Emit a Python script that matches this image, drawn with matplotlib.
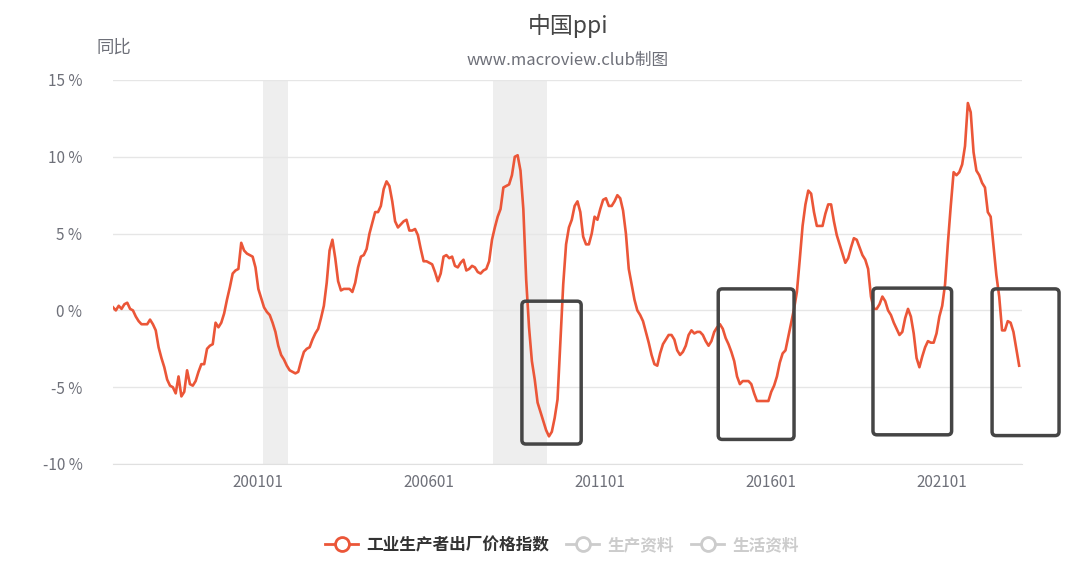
import matplotlib
matplotlib.use("Agg")
import numpy as np
import pandas as pd
import matplotlib.pyplot as plt
from matplotlib.lines import Line2D
from matplotlib.patches import FancyBboxPatch
from matplotlib.transforms import IdentityTransform

plt.rcParams["font.family"] = ["Noto Sans CJK SC", "DejaVu Sans"]

# PPI yoy (%), monthly, 1996-10 .. 2023-04
y1996 = [0.2, 0.0, 0.3]
y1997 = [0.1, 0.4, 0.5, 0.1, 0.0, -0.4, -0.7, -0.9, -0.9, -0.9, -0.6, -0.9]
y1998 = [-1.3, -2.4, -3.1, -3.7, -4.5, -4.9, -5.0, -5.4, -4.3, -5.6, -5.3, -3.9]
y1999 = [-4.8, -4.9, -4.6, -4.0, -3.5, -3.5, -2.5, -2.3, -2.2, -0.8, -1.1, -0.8]
y2000 = [-0.2, 0.7, 1.5, 2.4, 2.6, 2.7, 4.4, 3.9, 3.7, 3.6, 3.5, 2.8]
y2001 = [1.4, 0.8, 0.2, -0.1, -0.3, -0.8, -1.4, -2.3, -2.9, -3.2, -3.6, -3.9]
y2002 = [-4.0, -4.1, -4.0, -3.3, -2.7, -2.5, -2.4, -1.9, -1.5, -1.2, -0.5, 0.3]
y2003 = [1.8, 3.9, 4.6, 3.4, 1.9, 1.3, 1.4, 1.4, 1.4, 1.2, 1.8, 2.8]
y2004 = [3.5, 3.6, 4.0, 5.0, 5.7, 6.4, 6.4, 6.8, 7.9, 8.4, 8.1, 7.1]
y2005 = [5.8, 5.4, 5.6, 5.8, 5.9, 5.2, 5.2, 5.3, 4.9, 4.0, 3.2, 3.2]
y2006 = [3.1, 3.0, 2.5, 1.9, 2.4, 3.5, 3.6, 3.4, 3.5, 2.9, 2.8, 3.1]
y2007 = [3.3, 2.6, 2.7, 2.9, 2.8, 2.5, 2.4, 2.6, 2.7, 3.2, 4.6, 5.4]
y2008 = [6.1, 6.6, 8.0, 8.1, 8.2, 8.8, 10.0, 10.1, 9.1, 6.6, 2.0, -1.1]
y2009 = [-3.3, -4.5, -6.0, -6.6, -7.2, -7.8, -8.2, -7.9, -7.0, -5.8, -2.1, 1.7]
y2010 = [4.3, 5.4, 5.9, 6.8, 7.1, 6.4, 4.8, 4.3, 4.3, 5.0, 6.1, 5.9]
y2011 = [6.6, 7.2, 7.3, 6.8, 6.8, 7.1, 7.5, 7.3, 6.5, 5.0, 2.7, 1.7]
y2012 = [0.7, 0.0, -0.3, -0.7, -1.4, -2.1, -2.9, -3.5, -3.6, -2.8, -2.2, -1.9]
y2013 = [-1.6, -1.6, -1.9, -2.6, -2.9, -2.7, -2.3, -1.6, -1.3, -1.5, -1.4, -1.4]
y2014 = [-1.6, -2.0, -2.3, -2.0, -1.4, -1.1, -0.9, -1.2, -1.8, -2.2, -2.7, -3.3]
y2015 = [-4.3, -4.8, -4.6, -4.6, -4.6, -4.8, -5.4, -5.9, -5.9, -5.9, -5.9, -5.9]
y2016 = [-5.3, -4.9, -4.3, -3.4, -2.8, -2.6, -1.7, -0.8, 0.1, 1.2, 3.3, 5.5]
y2017 = [6.9, 7.8, 7.6, 6.4, 5.5, 5.5, 5.5, 6.3, 6.9, 6.9, 5.8, 4.9]
y2018 = [4.3, 3.7, 3.1, 3.4, 4.1, 4.7, 4.6, 4.1, 3.6, 3.3, 2.7, 0.9]
y2019 = [0.1, 0.1, 0.4, 0.9, 0.6, 0.0, -0.3, -0.8, -1.2, -1.6, -1.4, -0.5]
y2020 = [0.1, -0.4, -1.5, -3.1, -3.7, -3.0, -2.4, -2.0, -2.1, -2.1, -1.5, -0.4]
y2021 = [0.3, 1.7, 4.4, 6.8, 9.0, 8.8, 9.0, 9.5, 10.7, 13.5, 12.9, 10.3]
y2022 = [9.1, 8.8, 8.3, 8.0, 6.4, 6.1, 4.2, 2.3, 0.9, -1.3, -1.3, -0.7]
y2023 = [-0.8, -1.4, -2.5, -3.6]

ppi = (y1996 + y1997 + y1998 + y1999 + y2000 + y2001 + y2002 + y2003 + y2004
       + y2005 + y2006 + y2007 + y2008 + y2009 + y2010 + y2011 + y2012 + y2013
       + y2014 + y2015 + y2016 + y2017 + y2018 + y2019 + y2020 + y2021 + y2022
       + y2023)
months = list(pd.period_range("1996-10", "2023-04", freq="M").strftime("%Y%m"))

tick_months = ["200101", "200601", "201101", "201601", "202101"]
recessions = [("200103", "200111"), ("200712", "200906")]
# highlighted boxes: (x from, x to, y low, y high) in axis units
boxes = [(143.5, 164.3, -8.7, 0.6),
         (212.4, 239.0, -8.4, 1.4),
         (266.7, 294.3, -8.1, 1.45),
         (308.5, 332.0, -8.15, 1.4)]

legend_labels = ["工业生产者出厂价格指数", "生产资料", "生活资料"]

red = "#eb5638"
grey = "#6e7079"

x = np.arange(len(months))
pos = {m: i for i, m in enumerate(months)}

fig = plt.figure(figsize=(10.8, 5.73), dpi=100)
ax = fig.add_axes([113 / 1080, 1 - 464 / 573, (1022 - 113) / 1080, (464 - 80) / 573])

for a, b in recessions:
    ax.axvspan(pos[a] - 0.5, pos[b] + 0.3, color="#eeeeee", lw=0, zorder=0)

ax.plot(x, ppi, color=red, lw=1.9, zorder=3, solid_joinstyle="round")

ax.set_xlim(0, 319)
ax.set_ylim(-10, 15)
yt = list(range(-10, 16, 5))
ax.set_yticks(yt)
ax.set_yticklabels([f"{v} %" for v in yt], fontsize=11, color=grey)
ax.set_xticks([pos[m] for m in tick_months])
ax.set_xticklabels(tick_months, fontsize=11, color=grey)
ax.tick_params(axis="y", length=0, pad=22)
ax.tick_params(axis="x", length=0, pad=7)
ax.yaxis.grid(True, color="#e6e6e6", lw=1)
ax.set_axisbelow(True)
for s in ["top", "right", "left"]:
    ax.spines[s].set_visible(False)
ax.spines["bottom"].set_color("#e0e0e0")

fig.canvas.draw()
for x0, x1, y0, y1 in boxes:
    p0 = ax.transData.transform((x0, y0))
    p1 = ax.transData.transform((x1, y1))
    rect = FancyBboxPatch((p0[0], p0[1]), p1[0] - p0[0], p1[1] - p0[1],
                          boxstyle="round,pad=0,rounding_size=4",
                          fill=False, ec="#454545", lw=2.5,
                          transform=IdentityTransform(), zorder=5)
    fig.add_artist(rect)

fig.text(568 / 1080, 1 - 26 / 573, "中国ppi", ha="center", va="center",
         fontsize=16.5, color="#464646")
fig.text(568 / 1080, 1 - 60 / 573, "www.macroview.club制图", ha="center",
         va="center", fontsize=12, color=grey)
fig.text(114 / 1080, 1 - 48 / 573, "同比", ha="center", va="center",
         fontsize=12.5, color=grey)

colors = [red, "#cccccc", "#cccccc"]
handles = [Line2D([], [], color=c, lw=2, marker="o", markersize=10,
                  markerfacecolor="white", markeredgewidth=2) for c in colors]
leg = fig.legend(handles, legend_labels, loc="center",
                 bbox_to_anchor=(562 / 1080, 1 - 545 / 573), ncol=3,
                 frameon=False, handlelength=2.0, handletextpad=0.5,
                 columnspacing=1.0, prop={"weight": "bold", "size": 12})
text_colors = ["#333333", "#cccccc", "#cccccc"]
for t, c in zip(leg.get_texts(), text_colors):
    t.set_color(c)

fig.savefig("out.png", dpi=100)
